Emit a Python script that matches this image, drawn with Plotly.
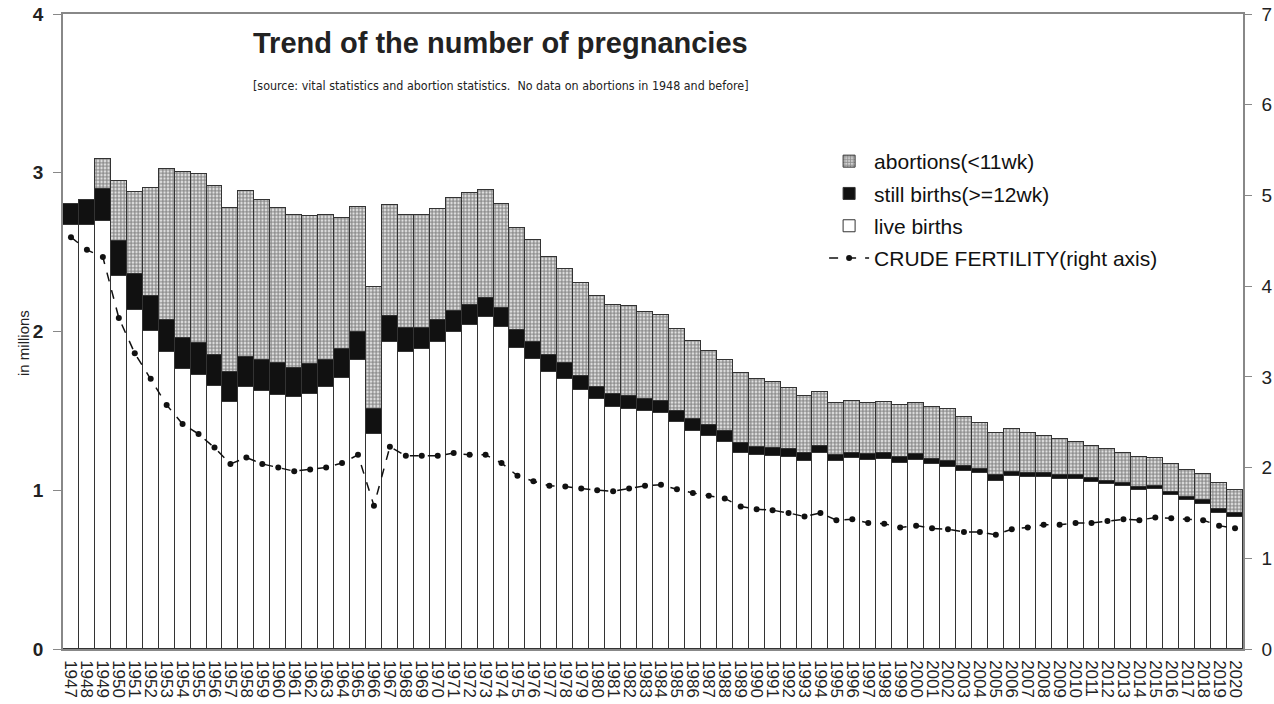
import plotly.graph_objects as go

years = list(range(1947, 2021))

# live births (millions)
live_births = [2.673, 2.673, 2.695, 2.347, 2.137, 2.004, 1.870, 1.763, 1.727, 1.659,
               1.558, 1.649, 1.626, 1.600, 1.586, 1.607, 1.653, 1.710, 1.821, 1.354,
               1.937, 1.870, 1.889, 1.931, 1.997, 2.038, 2.089, 2.026, 1.899, 1.826,
               1.748, 1.701, 1.632, 1.573, 1.523, 1.510, 1.501, 1.485, 1.428, 1.375,
               1.342, 1.306, 1.236, 1.221, 1.215, 1.211, 1.185, 1.232, 1.185, 1.201,
               1.190, 1.196, 1.173, 1.190, 1.165, 1.148, 1.122, 1.110, 1.059, 1.088,
               1.084, 1.084, 1.072, 1.068, 1.049, 1.037, 1.026, 1.000, 1.007, 0.969,
               0.938, 0.912, 0.857, 0.832]

# still births >=12wk (millions)
still_births = [0.133, 0.157, 0.200, 0.221, 0.225, 0.217, 0.204, 0.199, 0.200, 0.194,
                0.190, 0.193, 0.195, 0.204, 0.183, 0.189, 0.168, 0.179, 0.173, 0.156,
                0.158, 0.151, 0.135, 0.143, 0.130, 0.131, 0.122, 0.122, 0.112, 0.111,
                0.105, 0.099, 0.088, 0.080, 0.082, 0.084, 0.072, 0.079, 0.073, 0.072,
                0.069, 0.069, 0.063, 0.049, 0.049, 0.046, 0.047, 0.046, 0.037, 0.035,
                0.036, 0.036, 0.038, 0.036, 0.035, 0.037, 0.030, 0.027, 0.036, 0.028,
                0.026, 0.026, 0.023, 0.027, 0.026, 0.021, 0.021, 0.022, 0.021, 0.017,
                0.020, 0.026, 0.024, 0.025]

# abortions <11wk (millions)
abortions = [0.0, 0.0, 0.189, 0.379, 0.516, 0.684, 0.951, 1.042, 1.067, 1.062,
             1.031, 1.042, 1.010, 0.971, 0.968, 0.930, 0.911, 0.827, 0.789, 0.770,
             0.699, 0.710, 0.713, 0.695, 0.716, 0.701, 0.678, 0.653, 0.642, 0.642,
             0.617, 0.594, 0.586, 0.568, 0.564, 0.564, 0.547, 0.541, 0.514, 0.496,
             0.467, 0.446, 0.438, 0.429, 0.420, 0.385, 0.362, 0.343, 0.330, 0.328,
             0.321, 0.324, 0.326, 0.321, 0.326, 0.325, 0.308, 0.288, 0.263, 0.268,
             0.248, 0.234, 0.225, 0.211, 0.203, 0.199, 0.189, 0.189, 0.178, 0.179,
             0.169, 0.164, 0.162, 0.143]

# fertility (right axis)
fertility = [4.54, 4.40, 4.32, 3.65, 3.26, 2.98, 2.69, 2.48, 2.37, 2.22,
             2.04, 2.11, 2.04, 2.00, 1.96, 1.98, 2.00, 2.05, 2.14, 1.58,
             2.23, 2.13, 2.13, 2.13, 2.16, 2.14, 2.14, 2.05, 1.91, 1.85,
             1.80, 1.79, 1.77, 1.75, 1.74, 1.77, 1.80, 1.81, 1.76, 1.72,
             1.69, 1.66, 1.57, 1.54, 1.53, 1.50, 1.46, 1.50, 1.42, 1.43,
             1.39, 1.38, 1.34, 1.36, 1.33, 1.32, 1.29, 1.29, 1.26, 1.32,
             1.34, 1.37, 1.37, 1.39, 1.39, 1.41, 1.43, 1.42, 1.45, 1.44,
             1.43, 1.42, 1.36, 1.33]

left_ticks = [0, 1, 2, 3, 4]
right_ticks = [0, 1, 2, 3, 4, 5, 6, 7]

COND_FONT = "DejaVu Sans Condensed, Liberation Sans, sans-serif"
BODY_FONT = "Liberation Sans, Arial, sans-serif"
outline = dict(color="#333333", width=1)

fig = go.Figure()
fig.add_trace(go.Bar(x=years, y=live_births, name="live births",
                     marker=dict(color="white", line=outline),
                     legendrank=3, legendgroup="c"))
fig.add_trace(go.Bar(x=years, y=still_births, name="still births(>=12wk)",
                     marker=dict(color="#111111", line=outline),
                     legendrank=2, legendgroup="b"))
fig.add_trace(go.Bar(x=years, y=abortions, name="abortions(<11wk)",
                     marker=dict(color="white", line=outline,
                                 pattern=dict(shape=".", fgcolor="#222222", bgcolor="white",
                                              size=3.5, solidity=0.72)),
                     legendrank=1, legendgroup="a"))
fig.add_trace(go.Scatter(x=years, y=fertility, name="CRUDE FERTILITY(right axis)",
                         yaxis="y2", mode="lines+markers",
                         line=dict(color="#111111", width=1.5, dash="dash"),
                         marker=dict(color="#111111", size=6),
                         legendrank=4, legendgroup="d"))

fig.update_layout(
    width=1274, height=704,
    margin=dict(l=63, r=31, t=14, b=55),
    paper_bgcolor="white", plot_bgcolor="white",
    barmode="stack", bargap=0,
    showlegend=True,
    legend=dict(x=0.645, y=0.80, xanchor="left", yanchor="top",
                traceorder="grouped", tracegroupgap=2,
                font=dict(family=BODY_FONT, size=21, color="#111111"),
                bgcolor="rgba(0,0,0,0)", itemwidth=40),
    xaxis=dict(range=[1946.5, 2020.5], tickmode="array", tickvals=years,
               ticktext=[str(y) for y in years], tickangle=90, automargin=False,
               ticklabelstandoff=6,
               tickfont=dict(family=BODY_FONT, size=17, color="#222222"),
               showline=True, linecolor="#888888", linewidth=1.5, mirror=True,
               ticks="", showgrid=False, zeroline=False),
    yaxis=dict(range=[0, 4], tickvals=left_ticks, ticks="outside", ticklen=8,
               tickcolor="#888888", ticklabelstandoff=6, automargin=False,
               tickfont=dict(family=BODY_FONT, size=19, color="#222222", weight="bold"),
               showline=True, linecolor="#888888", linewidth=1.5,
               showgrid=False, zeroline=False),
    yaxis2=dict(range=[0, 7], tickvals=right_ticks, overlaying="y", side="right",
                ticks="outside", ticklen=7, tickcolor="#888888", ticklabelstandoff=6,
                automargin=False,
                tickfont=dict(family=BODY_FONT, size=19, color="#222222"),
                showline=True, linecolor="#888888", linewidth=1.5,
                showgrid=False, zeroline=False),
    annotations=[
        dict(text="<b>Trend of the number of pregnancies</b>", xref="paper", yref="paper",
             x=0.371, y=0.983, xanchor="center", yanchor="top", showarrow=False,
             font=dict(family=BODY_FONT, size=29, color="#222222")),
        dict(text="[source: vital statistics and abortion statistics.\u00a0 No data on abortions in 1948 and before]",
             xref="paper", yref="paper", x=0.371, y=0.903, xanchor="center", yanchor="top",
             showarrow=False, font=dict(family=COND_FONT, size=12.4, color="#222222")),
        dict(text="in millions", xref="paper", yref="paper", x=-0.033, y=0.482,
             xanchor="center", yanchor="middle", textangle=-90, showarrow=False,
             font=dict(family=BODY_FONT, size=15, color="#222222")),
    ],
)

fig.write_html("out.html", config={"displayModeBar": False},
               post_script="document.body.style.margin='0px';")
